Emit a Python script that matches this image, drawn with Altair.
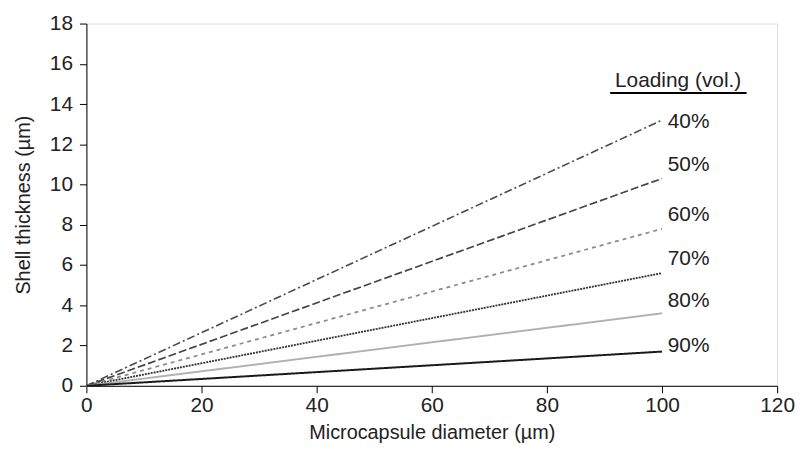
import altair as alt
import pandas as pd

loadings = ["40%", "50%", "60%", "70%", "80%", "90%"]
start_diameter = [0, 0, 0, 0, 0, 0]
start_thickness = [0, 0, 0, 0, 0, 0]
end_diameter = [100, 100, 100, 100, 100, 100]
end_thickness = [13.2, 10.3, 7.8, 5.6, 3.6, 1.7]
label_x = [101, 101, 101, 101, 101, 101]
label_y = [13.1, 10.95, 8.5, 6.3, 4.2, 1.97]
legend_title = "Loading (vol.)"

line_colors = ["#4a4a4a", "#444444", "#8a8a8a", "#333333", "#b0b0b0", "#1a1a1a"]
line_dashes = [[8, 3, 2, 3], [8, 3], [4, 4], [2, 1], [1, 0], [1, 0]]
line_widths = [1.6, 2.0, 1.6, 2.0, 0.8, 1.5]

rows = []
for i, name in enumerate(loadings):
    rows.append({"loading": name, "d": start_diameter[i], "t": start_thickness[i], "order": 0})
    rows.append({"loading": name, "d": end_diameter[i], "t": end_thickness[i], "order": 1})
lines_df = pd.DataFrame(rows)
labels_df = pd.DataFrame({"loading": loadings, "x": label_x, "y": label_y})

FONT = "Liberation Sans"
TXT = "#222222"

xscale = alt.Scale(domain=[0, 120], nice=False, zero=False)
yscale = alt.Scale(domain=[0, 18], nice=False, zero=False)

lines = alt.Chart(lines_df).mark_line().encode(
    x=alt.X("d:Q", scale=xscale, axis=alt.Axis(
        title="Microcapsule diameter (µm)", values=[0, 20, 40, 60, 80, 100, 120],
        grid=False, domainColor="black", tickColor="black", tickSize=7,
        labelFont=FONT, labelFontSize=21, labelColor=TXT, labelPadding=2,
        labelFlush=False, labelOverlap=False,
        titleFont=FONT, titleFontSize=20, titleFontWeight="normal", titleColor=TXT,
        titlePadding=7)),
    y=alt.Y("t:Q", scale=yscale, axis=alt.Axis(
        title="Shell thickness (µm)", values=list(range(0, 19, 2)),
        grid=False, domainColor="black", tickColor="black", tickSize=7,
        labelFont=FONT, labelFontSize=21, labelColor=TXT, labelPadding=7,
        labelFlush=False, labelOverlap=False,
        titleFont=FONT, titleFontSize=20, titleFontWeight="normal", titleColor=TXT,
        titlePadding=16)),
    detail="loading:N",
    order="order:Q",
    color=alt.Color("loading:N", scale=alt.Scale(domain=loadings, range=line_colors), legend=None),
    strokeDash=alt.StrokeDash("loading:N", scale=alt.Scale(domain=loadings, range=line_dashes), legend=None),
    strokeWidth=alt.StrokeWidth("loading:N", scale=alt.Scale(domain=loadings, range=line_widths), legend=None),
)

labels = alt.Chart(labels_df).mark_text(
    align="left", baseline="middle", font=FONT, fontSize=21, color=TXT
).encode(x=alt.X("x:Q", scale=xscale), y=alt.Y("y:Q", scale=yscale), text="loading:N")

title_df = pd.DataFrame({"x": [102.8], "y": [14.84], "text": [legend_title]})
title_text = alt.Chart(title_df).mark_text(
    align="center", baseline="alphabetic", font=FONT, fontSize=21, color=TXT
).encode(x=alt.X("x:Q", scale=xscale), y=alt.Y("y:Q", scale=yscale), text="text:N")

rule_df = pd.DataFrame({"x": [91.0], "x2": [114.7], "y": [14.55]})
underline = alt.Chart(rule_df).mark_rule(color="black", strokeWidth=2).encode(
    x=alt.X("x:Q", scale=xscale), x2="x2:Q", y=alt.Y("y:Q", scale=yscale))

chart = alt.layer(lines, labels, title_text, underline).properties(
    width=696, height=365,
    autosize=alt.AutoSizeParams(type="none"),
    padding={"left": 79, "top": 14, "right": 18, "bottom": 60},
).configure_view(stroke="black", strokeWidth=1).configure(background="white")

chart.save("out.html", embed_options={"renderer": "svg", "actions": False})
